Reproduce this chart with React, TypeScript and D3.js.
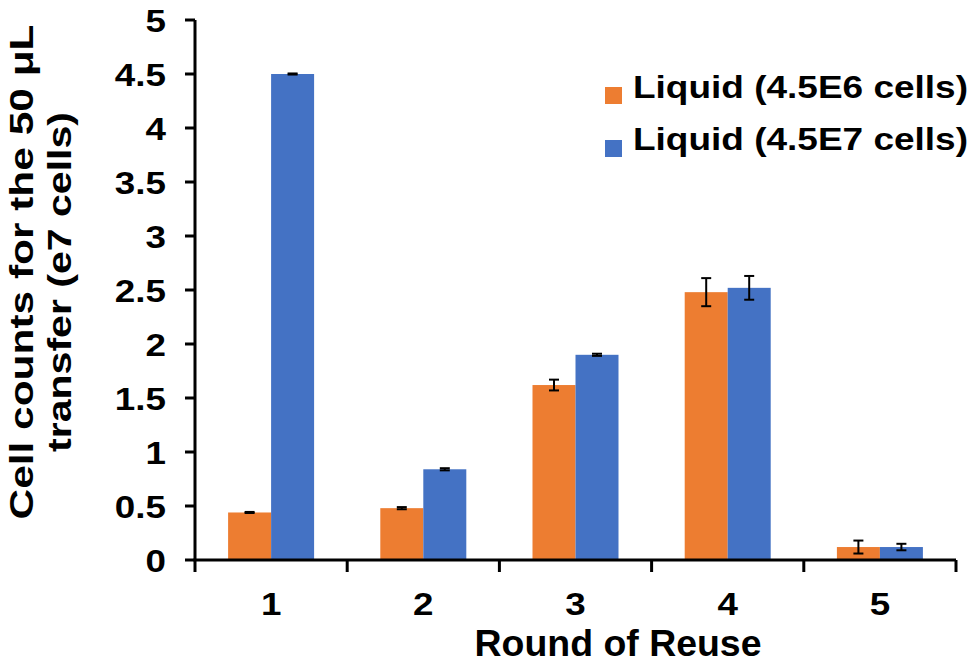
import React from "react";
import * as d3 from "d3";

const categories = ["1", "2", "3", "4", "5"];
const seriesNames = ["Liquid (4.5E6 cells)", "Liquid (4.5E7 cells)"];
const seriesColors = ["#ED7D31", "#4472C4"];
const lowValues = [0.44, 0.48, 1.62, 2.48, 0.12];
const lowErrors = [0.005, 0.01, 0.05, 0.13, 0.06];
const highValues = [4.5, 0.84, 1.9, 2.52, 0.12];
const highErrors = [0.005, 0.01, 0.01, 0.11, 0.03];
const yTicks = [0, 0.5, 1, 1.5, 2, 2.5, 3, 3.5, 4, 4.5, 5];

export default function App() {
  const W = 973, H = 666;
  const left = 195, right = 956, top = 20, bottom = 560;
  const x = d3.scaleBand<string>().domain(categories).range([left, right]).paddingInner(0).paddingOuter(0);
  const y = d3.scaleLinear().domain([0, 5]).range([bottom, top]);
  const barW = 43;
  const series = [
    { vals: lowValues, errs: lowErrors },
    { vals: highValues, errs: highErrors },
  ];
  const font = "'Liberation Sans', Arial, sans-serif";
  const sx = 1.15;
  return (
    <svg width={W} height={H} style={{ position: "absolute", left: 0, top: 0, background: "#fff" }} fontFamily={font}>
      {series.map((s, si) =>
        categories.map((c, i) => {
          const cx = (x(c) as number) + x.bandwidth() / 2;
          const bx = cx - barW + si * barW;
          const v = s.vals[i];
          return (
            <rect key={`b${si}-${i}`} x={bx} y={y(v)} width={barW} height={bottom - y(v)} fill={seriesColors[si]} />
          );
        })
      )}
      {series.map((s, si) =>
        categories.map((c, i) => {
          const cx = (x(c) as number) + x.bandwidth() / 2;
          const ex = cx - barW / 2 + si * barW;
          const v = s.vals[i], e = s.errs[i];
          const y1 = y(v + e), y2 = y(v - e);
          return (
            <g key={`e${si}-${i}`} stroke="#000" strokeWidth={2}>
              <line x1={ex} x2={ex} y1={y1} y2={y2} />
              <line x1={ex - 5} x2={ex + 5} y1={y1} y2={y1} />
              <line x1={ex - 5} x2={ex + 5} y1={y2} y2={y2} />
            </g>
          );
        })
      )}
      {/* y axis */}
      <line x1={left} x2={left} y1={top} y2={bottom} stroke="#000" strokeWidth={3} />
      {yTicks.map((t) => (
        <g key={`yt${t}`}>
          <line x1={left - 10} x2={left} y1={y(t)} y2={y(t)} stroke="#000" strokeWidth={3} />
          <text transform={`translate(166,${y(t) + 11.5}) scale(${sx},1)`} textAnchor="end" fontSize={32} fontWeight="bold" fill="#000">
            {t}
          </text>
        </g>
      ))}
      {/* x axis */}
      <line x1={left - 1.5} x2={right} y1={bottom} y2={bottom} stroke="#000" strokeWidth={3} />
      {[...categories.map((c) => x(c) as number), right].map((tx, i) => (
        <line key={`xt${i}`} x1={tx} x2={tx} y1={bottom} y2={bottom + 12} stroke="#000" strokeWidth={3} />
      ))}
      {categories.map((c) => (
        <text key={`xl${c}`} transform={`translate(${(x(c) as number) + x.bandwidth() / 2},615) scale(${sx},1)`} textAnchor="middle" fontSize={32} fontWeight="bold" fill="#000">
          {c}
        </text>
      ))}
      <text x={618} y={656} textAnchor="middle" fontSize={36} fontWeight="bold" fill="#000" textLength={287} lengthAdjust="spacingAndGlyphs">
        Round of Reuse
      </text>
      <text transform="translate(33,272) rotate(-90)" textAnchor="middle" fontSize={34} fontWeight="bold" fill="#000" textLength={495} lengthAdjust="spacingAndGlyphs">
        Cell counts for the 50 μL
      </text>
      <text transform="translate(71,282) rotate(-90)" textAnchor="middle" fontSize={34} fontWeight="bold" fill="#000" textLength={340} lengthAdjust="spacingAndGlyphs">
        transfer (e7 cells)
      </text>
      {seriesNames.map((n, i) => (
        <g key={`lg${i}`}>
          <rect x={605} y={87 + i * 53} width={17} height={17} fill={seriesColors[i]} />
          <text x={633} y={98 + i * 52} fontSize={32} fontWeight="bold" fill="#000" textLength={335} lengthAdjust="spacingAndGlyphs">
            {n}
          </text>
        </g>
      ))}
    </svg>
  );
}
